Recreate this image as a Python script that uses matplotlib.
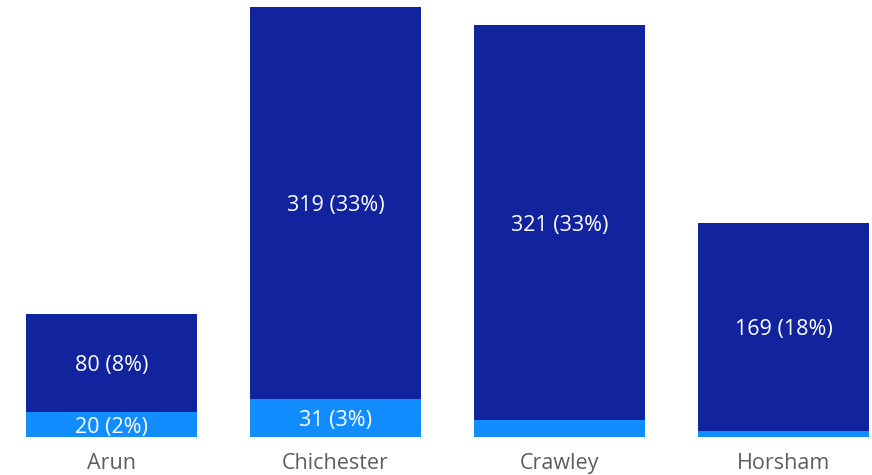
import numpy as np
import matplotlib.pyplot as plt

plt.rcParams['font.family'] = ['Open Sans', 'DejaVu Sans']

# data
districts = ['Arun', 'Chichester', 'Crawley', 'Horsham']
lower = [20, 31, 14, 5]      # light blue segment
upper = [80, 319, 321, 169]  # dark blue segment

LIGHT = '#118DFF'
DARK = '#12239E'

total = sum(lower) + sum(upper)

fig = plt.figure(figsize=(8.72, 4.75), dpi=100)
ax = fig.add_axes([0, 0.08, 1, 0.92])

x = np.arange(len(districts))
w = 0.763
ax.bar(x, lower, width=w, color=LIGHT)
ax.bar(x, upper, width=w, bottom=lower, color=DARK)

# data labels, only where the segment is tall enough
def label(xi, base, val):
    if val < 18:
        return
    pct = round(100 * val / total)
    ax.text(xi, base + val / 2, f'{val} ({pct}%)', ha='center',
            va='center_baseline', color='white', fontsize=15.5)

for i in range(len(districts)):
    label(x[i], 0, lower[i])
    label(x[i], lower[i], upper[i])

ax.set_xlim(-0.4978, 3.3951)
ax.set_ylim(0, 355.7)
ax.set_xticks(x)
ax.set_xticklabels(districts, fontsize=15.5, color='#605E5C')
ax.tick_params(axis='x', length=0, pad=11.5)
ax.set_yticks([])
for s in ax.spines.values():
    s.set_visible(False)

fig.savefig('out.png', dpi=100)
